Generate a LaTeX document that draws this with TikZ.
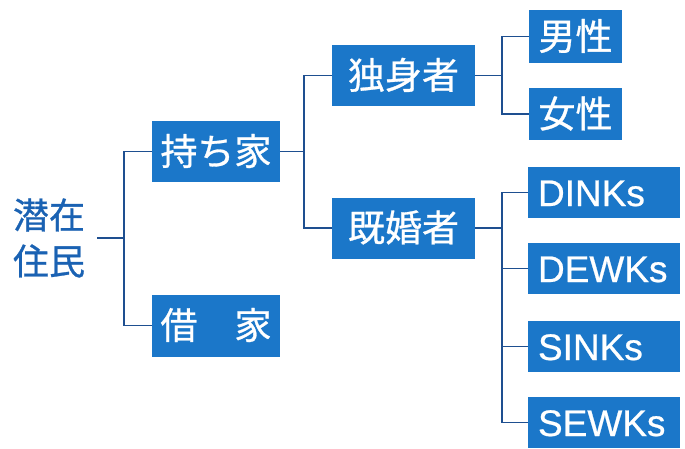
\documentclass[tikz,border=0pt]{standalone}
\usepackage{fontspec}
\setmainfont{Liberation Sans}[FakeBold=0.6]
\newfontfamily\jpfont{Noto Sans CJK JP}[FakeBold=0.8]
\definecolor{boxblue}{HTML}{1B77C9}
\definecolor{lineblue}{HTML}{1E4F90}
\definecolor{rootblue}{HTML}{1A62B3}
\tikzset{
  box/.style={fill=boxblue, text=white, inner sep=0pt, font=\fontsize{37}{44}\selectfont},
  jpbox/.style={box, font=\jpfont\fontsize{37}{44}\selectfont, text height=29.6pt, text depth=2.6pt},
  enbox/.style={box, minimum width=152pt, minimum height=51pt, text width=132pt, align=left, text height=27pt, text depth=0pt},
  conn/.style={draw=lineblue, line width=1.8pt}
}
\begin{document}
\begin{tikzpicture}[x=1pt,y=-1pt]
\useasboundingbox (0,0) rectangle (685,448);
\fill[white] (0,0) rectangle (685,448);
% root
\node[text=rootblue, font=\jpfont\fontsize{36}{46}\selectfont, align=center, inner xsep=12pt, inner ysep=0pt] (root) at (49,238) {潜在\\住民};
% level 1
\node[jpbox, minimum width=128pt, minimum height=61pt] (moch) at (216,151.5) {持ち家};
\node[jpbox, minimum width=128pt, minimum height=62pt] (shak) at (216,325.5) {借　家};
% level 2
\node[jpbox, minimum width=143pt, minimum height=61pt] (dok) at (403.5,75.5) {独身者};
\node[jpbox, minimum width=143pt, minimum height=61pt] (kik) at (403.5,228) {既婚者};
% level 3
\node[jpbox, minimum width=93pt, minimum height=53pt] (dan) at (575.5,36.5) {男性};
\node[jpbox, minimum width=93pt, minimum height=52pt] (jo) at (575.5,114) {女性};
\node[enbox] (d1) at (604,192.5) {DINKs};
\node[enbox] (d2) at (604,268.5) {DEWKs};
\node[enbox] (d3) at (604,346.5) {SINKs};
\node[enbox] (d4) at (604,422.5) {SEWKs};
% junctions
\coordinate (j1) at (124,0);
\coordinate (j2) at (304,0);
\coordinate (j3) at (502,0);
% connectors
\draw[conn] (root.east) -- (root.east -| j1);
\draw[conn] (moch.west) -- (moch.west -| j1) -- (shak.west -| j1) -- (shak.west);
\draw[conn] (moch.east) -- (moch.east -| j2);
\draw[conn] (dok.west) -- (dok.west -| j2) -- (kik.west -| j2) -- (kik.west);
\draw[conn] (dok.east) -- (dok.east -| j3);
\draw[conn] (dan.west) -- (dan.west -| j3) -- (jo.west -| j3) -- (jo.west);
\draw[conn] (kik.east) -- (kik.east -| j3);
\draw[conn] (d1.west) -- (d1.west -| j3) -- (d4.west -| j3) -- (d4.west);
\draw[conn] (d2.west -| j3) -- (d2.west);
\draw[conn] (d3.west -| j3) -- (d3.west);
\end{tikzpicture}
\end{document}
